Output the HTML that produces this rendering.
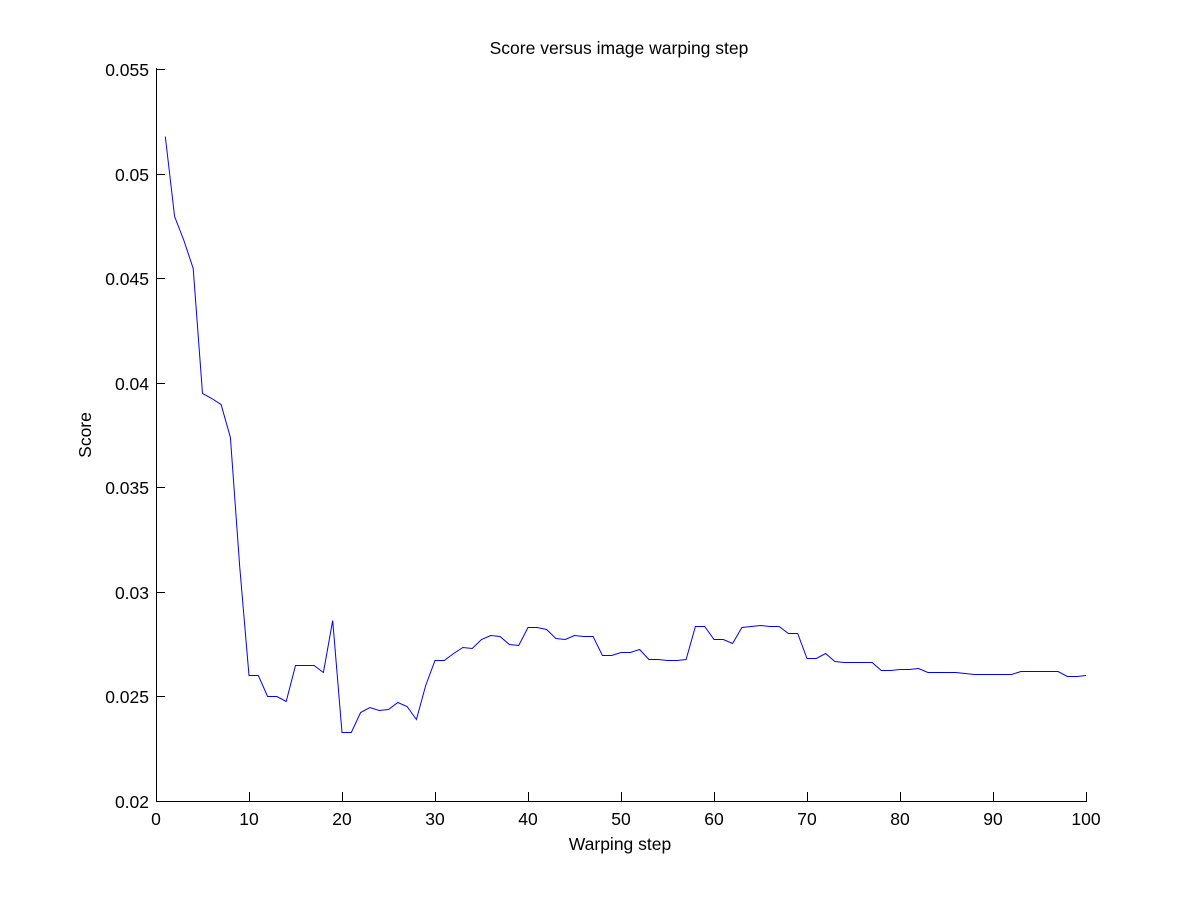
<!DOCTYPE html>
<html><head><meta charset="utf-8"><style>
html,body{margin:0;padding:0;background:#fff;}
svg{display:block;}
text{font-family:"Liberation Sans",Arial,sans-serif;fill:#000;}
</style></head><body>
<svg width="1200" height="900" xmlns="http://www.w3.org/2000/svg">
<rect width="1200" height="900" fill="#fff"/>
<text x="619" y="54" font-size="17.5" text-anchor="middle">Score versus image warping step</text>
<g stroke="#000" stroke-width="1" fill="none" shape-rendering="crispEdges">
<line x1="156.5" y1="68" x2="156.5" y2="801.5"/>
<line x1="156" y1="801.5" x2="1087" y2="801.5"/>
<line x1="156" y1="69.5" x2="165" y2="69.5"/>
<line x1="156" y1="174.5" x2="165" y2="174.5"/>
<line x1="156" y1="278.5" x2="165" y2="278.5"/>
<line x1="156" y1="383.5" x2="165" y2="383.5"/>
<line x1="156" y1="487.5" x2="165" y2="487.5"/>
<line x1="156" y1="592.5" x2="165" y2="592.5"/>
<line x1="156" y1="696.5" x2="165" y2="696.5"/>
<line x1="249.5" y1="792" x2="249.5" y2="801"/>
<line x1="342.5" y1="792" x2="342.5" y2="801"/>
<line x1="435.5" y1="792" x2="435.5" y2="801"/>
<line x1="528.5" y1="792" x2="528.5" y2="801"/>
<line x1="621.5" y1="792" x2="621.5" y2="801"/>
<line x1="714.5" y1="792" x2="714.5" y2="801"/>
<line x1="807.5" y1="792" x2="807.5" y2="801"/>
<line x1="900.5" y1="792" x2="900.5" y2="801"/>
<line x1="993.5" y1="792" x2="993.5" y2="801"/>
<line x1="1086.5" y1="792" x2="1086.5" y2="801"/>
</g>
<g font-size="17.5" text-anchor="end">
<text x="149" y="76">0.055</text>
<text x="149" y="181">0.05</text>
<text x="149" y="285">0.045</text>
<text x="149" y="390">0.04</text>
<text x="149" y="494">0.035</text>
<text x="149" y="599">0.03</text>
<text x="149" y="703">0.025</text>
<text x="149" y="808">0.02</text>
</g>
<g font-size="17.5" text-anchor="middle">
<text x="156" y="825">0</text>
<text x="249" y="825">10</text>
<text x="342" y="825">20</text>
<text x="435" y="825">30</text>
<text x="528" y="825">40</text>
<text x="621" y="825">50</text>
<text x="714" y="825">60</text>
<text x="807" y="825">70</text>
<text x="900" y="825">80</text>
<text x="993" y="825">90</text>
<text x="1086" y="825">100</text>
</g>
<text x="620" y="850" font-size="17.5" text-anchor="middle">Warping step</text>
<text x="91" y="435" font-size="17.5" text-anchor="middle" transform="rotate(-90 91 435)">Score</text>
<polyline fill="none" stroke="#0000ff" stroke-width="1" points="165.3,136.5 174.6,216.5 183.9,240.5 193.2,268.5 202.5,393.5 211.8,398.5 221.1,404.5 230.4,437.5 239.7,566.5 249,675.5 258.3,675.5 267.6,696.5 276.9,696.5 286.2,701.5 295.5,665.5 304.8,665.5 314.1,665.5 323.4,672.5 332.7,620.5 342,732.5 351.3,732.5 360.6,712.5 369.9,707.5 379.2,710.5 388.5,709.5 397.8,702.5 407.1,706.5 416.4,719.5 425.7,685.5 435,660.5 444.3,660.5 453.6,653.5 462.9,647.5 472.2,648.5 481.5,639.5 490.8,635.5 500.1,636.5 509.4,644.5 518.7,645.5 528,627.5 537.3,627.5 546.6,629.5 555.9,638.5 565.2,639.5 574.5,635.5 583.8,636.5 593.1,636.5 602.4,655.5 611.7,655.5 621,652.5 630.3,652.5 639.6,649.5 648.9,659.5 658.2,659.5 667.5,660.5 676.8,660.5 686.1,659.5 695.4,626.5 704.7,626.5 714,639.5 723.3,639.5 732.6,643.5 741.9,627.5 751.2,626.5 760.5,625.5 769.8,626.5 779.1,626.5 788.4,633.5 797.7,633.5 807,658.5 816.3,658.5 825.6,653.5 834.9,661.5 844.2,662.5 853.5,662.5 862.8,662.5 872.1,662.5 881.4,670.5 890.7,670.5 900,669.5 909.3,669.5 918.6,668.5 927.9,672.5 937.2,672.5 946.5,672.5 955.8,672.5 965.1,673.5 974.4,674.5 983.7,674.5 993,674.5 1002.3,674.5 1011.6,674.5 1020.9,671.5 1030.2,671.5 1039.5,671.5 1048.8,671.5 1058.1,671.5 1067.4,676.5 1076.7,676.5 1086,675.5"/>
</svg>
</body></html>
